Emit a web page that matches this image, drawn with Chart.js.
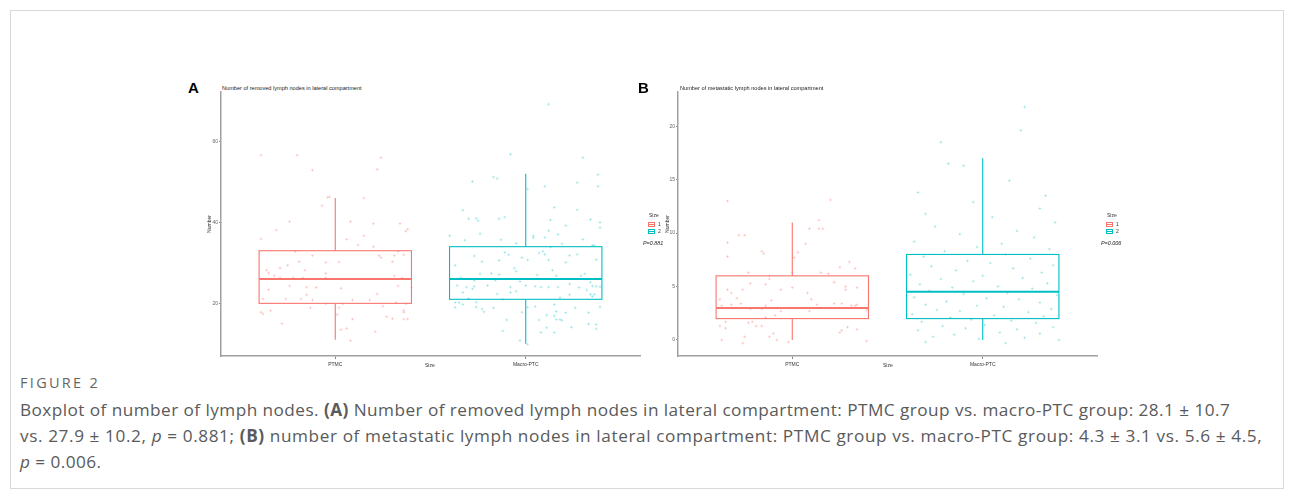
<!DOCTYPE html>
<html>
<head>
<meta charset="utf-8">
<script src="https://cdn.jsdelivr.net/npm/chart.js@4.4.1/dist/chart.umd.min.js"></script>
<style>
  body { margin: 0; background: #fff; width: 1295px; height: 499px; position: relative; overflow: hidden; font-family: Arial, "Liberation Sans", sans-serif; }
  .frame { position: absolute; left: 10px; top: 10px; width: 1274px; height: 479px; border: 1px solid #d9d9d9; box-sizing: border-box; }
  .wrap { position: absolute; top: 80px; width: 460px; height: 300px; }
  .tag { position: absolute; font-weight: bold; font-size: 15px; color: #000; line-height: 15px; }
  .ptitle { position: absolute; font-size: 5.6px; color: #222; line-height: 6px; white-space: nowrap; }
  .tiny { position: absolute; font-size: 5px; color: #333; line-height: 5px; white-space: nowrap; }
  .key { position: absolute; width: 5px; height: 3px; border: 1px solid; background: #fff; }
  .key::after { content: ''; position: absolute; left: 0; right: 0; top: 1px; height: 1px; background: currentColor; }
  .pval { position: absolute; font-size: 5.4px; font-style: italic; color: #222; white-space: nowrap; line-height: 6px; }
  .fig { position: absolute; left: 20px; top: 374px; font-family: "Open Sans", Lato, sans-serif; font-size: 14.5px; line-height: 18px; color: #666; letter-spacing: 2.3px; }
  .cap { position: absolute; left: 20px; top: 397px; font-family: "Open Sans", Lato, sans-serif; font-weight: 400; font-size: 17.2px; line-height: 26px; color: #5a5a5a; letter-spacing: 0.45px; white-space: nowrap; }
  .cap b { font-weight: 700; }
  .cap .l2 { letter-spacing: 0.6px; }
</style>
</head>
<body>
<div class="frame"></div>

<div class="tag" style="left:188px;top:80px">A</div>
<div class="ptitle" style="left:222px;top:85px">Number of removed lymph nodes in lateral compartment</div>
<div class="wrap" style="left:190px"><canvas id="chartA"></canvas></div>
<div class="tiny" style="left:425px;top:363px">Size</div>

<div class="tag" style="left:638px;top:80px">B</div>
<div class="ptitle" style="left:680px;top:85px">Number of metastatic lymph nodes in lateral compartment</div>
<div class="wrap" style="left:648px"><canvas id="chartB"></canvas></div>
<div class="tiny" style="left:883px;top:363px">Size</div>

<div id="legendA"></div>
<div id="legendB"></div>

<div class="fig">FIGURE 2</div>
<div class="cap">Boxplot of number of lymph nodes. <b>(A)</b> Number of removed lymph nodes in lateral compartment: PTMC group vs. macro-PTC group: 28.1 ± 10.7<br><span class="l2">vs. 27.9 ± 10.2, <i>p</i> = 0.881; <b>(B)</b> number of metastatic lymph nodes in lateral compartment: PTMC group vs. macro-PTC group: 4.3 ± 3.1 vs. 5.6 ± 4.5,</span><br><i>p</i> = 0.006.</div>

<script>
// categories and legend
var categories = ['PTMC', 'Macro-PTC'];
var groupLabels = ['1', '2'];
var colors = ['#F8766D', '#00BFC4'];
var pointColors = ['rgba(248,118,109,0.38)', 'rgba(0,191,196,0.33)'];

// tick labels
var yTicksA = [20, 40, 60];
var yTicksB = [0, 5, 10, 15, 20];

// box stats: [lower whisker, Q1, median, Q3, upper whisker]
var removedPtmcBox = [11, 20, 26, 33, 46];
var removedMacroBox = [10, 21, 26, 34, 52];
var metaPtmcBox = [0, 2, 3, 6, 11];
var metaMacroBox = [0, 2, 4.5, 8, 17];

// jittered observations [x position, value]
var removedPtmcPts = [[0.61,56.6],[0.80,56.6],[1.24,56.0],[0.88,52.9],[1.22,53.1],[0.96,46.2],[0.97,46.3],[1.15,46.0],[0.93,44.1],[0.76,40.2],[1.08,40.2],[1.20,39.7],[1.34,39.7],[1.38,38.3],[1.37,37.8],[0.61,35.9],[0.69,38.1],[1.15,36.7],[1.06,35.8],[1.12,34.4],[1.20,34.0],[0.79,32.8],[1.33,32.8],[0.88,31.8],[1.23,31.8],[1.24,31.3],[1.31,31.8],[1.36,32.0],[0.81,30.3],[0.95,30.1],[1.02,30.2],[1.30,30.3],[0.64,28.2],[0.65,27.5],[0.71,28.7],[0.75,29.4],[0.84,28.2],[0.68,26.8],[0.71,26.3],[0.78,26.3],[0.83,26.3],[0.95,27.4],[0.95,26.3],[1.31,26.8],[1.35,26.3],[0.76,24.3],[0.85,24.0],[0.90,23.9],[1.03,23.7],[1.33,24.3],[1.40,23.9],[0.65,23.4],[1.22,22.3],[0.62,21.1],[0.74,21.1],[0.82,21.1],[0.85,22.1],[0.88,20.8],[1.09,20.8],[1.18,20.8],[1.32,20.2],[0.95,19.9],[1.37,19.9],[1.04,19.9],[0.87,18.9],[1.02,18.9],[1.25,19.3],[0.61,17.8],[0.62,17.4],[0.66,18.2],[1.36,18.3],[1.36,17.8],[0.72,15.0],[1.01,17.2],[1.09,16.1],[1.27,16.7],[1.30,16.2],[1.36,16.1],[1.38,16.1],[1.03,13.5],[1.06,13.8],[1.21,13.0],[1.08,10.75]];

var removedMacroPts = [[2.12,69.2],[1.92,56.8],[2.30,56.0],[1.72,50.1],[1.83,51.2],[1.85,50.8],[2.10,48.9],[2.01,48.2],[2.27,49.8],[2.38,51.8],[2.38,48.9],[1.67,43.0],[2.15,43.7],[2.27,43.1],[1.70,40.9],[1.74,41.0],[1.75,40.4],[1.86,40.9],[1.89,41.3],[2.13,40.6],[2.34,40.7],[2.39,40.0],[2.21,39.2],[2.39,38.7],[1.60,36.7],[1.68,35.6],[1.76,37.2],[1.87,35.7],[2.04,36.7],[2.04,36.2],[2.10,36.3],[2.12,37.9],[2.17,37.0],[2.30,35.8],[1.95,34.8],[2.19,34.7],[2.35,34.3],[2.36,34.3],[2.13,33.9],[1.73,31.7],[1.89,32.6],[1.91,32.0],[1.98,31.3],[2.07,32.4],[2.09,32.8],[2.10,32.1],[2.23,31.8],[2.27,32.1],[1.63,29.4],[1.77,30.3],[1.86,30.6],[2.01,30.7],[2.12,30.7],[2.21,30.1],[2.37,30.8],[1.94,28.7],[1.95,27.9],[1.76,27.3],[1.82,27.4],[1.86,27.1],[2.06,27.0],[2.14,28.2],[2.16,26.8],[2.29,26.8],[2.31,27.3],[1.66,26.3],[1.73,25.6],[1.84,25.7],[1.97,25.4],[1.64,24.4],[1.69,24.0],[1.72,23.6],[1.73,24.2],[1.80,24.4],[1.92,24.0],[2.00,24.4],[2.05,24.2],[2.08,24.0],[2.12,24.0],[2.17,24.0],[2.23,24.8],[2.28,23.9],[2.34,25.2],[2.35,24.3],[2.37,24.2],[2.39,24.1],[1.67,22.7],[1.70,21.2],[1.85,22.3],[1.92,22.7],[1.95,23.0],[2.18,21.4],[2.23,22.1],[2.32,23.3],[2.34,22.2],[2.35,21.7],[2.36,22.2],[1.63,20.2],[1.65,20.2],[1.63,19.0],[1.67,19.7],[1.74,20.3],[1.74,19.1],[1.77,18.6],[1.78,17.9],[1.83,18.9],[1.88,21.0],[1.98,17.8],[2.01,19.0],[2.05,19.2],[2.15,19.7],[2.16,18.0],[2.15,16.9],[2.16,16.0],[2.18,16.0],[2.19,15.8],[2.21,17.7],[2.26,18.9],[2.33,17.7],[2.39,19.1],[1.90,15.9],[2.07,15.9],[2.11,17.1],[2.24,14.1],[2.33,14.9],[2.37,14.8],[2.37,13.7],[2.08,12.8],[2.11,14.0],[2.15,12.8],[1.88,13.2],[1.97,10.8],[2.01,9.9]];

var metaPtmcPts = [[0.66,13.0],[1.20,13.1],[0.72,9.8],[0.75,9.8],[0.66,9.1],[0.66,7.8],[1.09,10.4],[1.14,11.2],[1.14,10.4],[1.16,10.4],[1.07,9.0],[1.03,8.2],[1.01,7.7],[0.84,8.3],[0.85,8.1],[0.77,6.3],[1.00,6.3],[1.15,6.3],[1.19,6.2],[1.25,6.8],[1.30,7.3],[1.33,6.7],[0.88,6.0],[0.88,5.7],[0.78,5.3],[0.86,5.2],[1.00,4.9],[1.22,5.4],[1.28,5.0],[1.28,4.7],[1.34,4.9],[0.66,4.7],[0.68,4.4],[0.74,4.7],[0.94,4.7],[1.08,4.4],[0.62,3.8],[0.71,3.9],[0.89,3.7],[1.10,3.8],[0.63,3.2],[0.73,3.4],[0.68,3.3],[0.86,3.2],[1.13,3.3],[1.22,3.4],[1.26,3.4],[1.31,3.2],[1.34,3.3],[1.33,3.2],[0.78,2.9],[0.84,2.9],[0.92,3.0],[0.99,3.0],[0.94,2.7],[1.09,2.7],[1.39,2.8],[0.79,1.7],[0.77,1.6],[0.65,1.7],[0.62,1.3],[0.65,1.1],[0.81,1.3],[0.84,1.3],[0.86,2.1],[0.91,2.3],[1.25,0.7],[1.26,0.9],[1.29,1.2],[1.34,1.0],[0.75,0.3],[0.63,0.0],[0.74,-0.3],[0.90,0.6],[0.88,0.3],[0.92,0.0],[0.98,-0.2],[1.39,-0.1]];

var metaMacroPts = [[2.22,21.8],[1.78,18.5],[2.20,19.6],[1.82,16.5],[1.90,16.3],[2.14,14.9],[1.66,13.8],[2.33,13.5],[1.95,12.9],[2.30,12.3],[1.70,11.8],[2.05,11.5],[2.38,11.0],[1.75,10.6],[2.18,10.2],[1.88,9.9],[2.27,9.6],[1.64,9.2],[2.10,9.0],[1.97,8.7],[2.35,8.5],[1.80,8.3],[2.12,8.0],[1.69,7.8],[2.25,7.6],[1.92,7.4],[2.04,7.2],[2.37,7.0],[1.73,6.9],[2.16,6.7],[1.86,6.5],[2.31,6.3],[1.62,6.1],[2.00,6.0],[2.21,5.8],[1.78,5.7],[1.95,5.5],[2.34,5.3],[1.67,5.2],[2.08,5.0],[1.84,4.9],[2.26,4.8],[1.72,4.6],[2.13,4.4],[1.90,4.3],[2.39,4.2],[1.64,4.0],[2.02,3.9],[2.19,3.8],[1.81,3.6],[2.30,3.5],[1.70,3.3],[1.97,3.2],[2.11,3.1],[2.36,2.9],[1.76,2.8],[1.88,2.7],[2.24,2.6],[1.63,2.4],[2.06,2.3],[2.32,2.2],[1.83,2.1],[1.94,1.9],[2.15,1.8],[1.68,1.7],[2.28,1.6],[2.01,1.4],[1.79,1.3],[2.37,1.2],[1.91,1.1],[2.18,1.0],[1.66,0.9],[2.09,0.7],[2.30,0.6],[1.85,0.5],[1.74,0.3],[2.22,0.2],[1.98,0.1],[2.40,0.0],[1.70,-0.2],[2.12,-0.3]];

var boxPlugin = {
  id: 'boxes',
  beforeDatasetsDraw: function (chart, args, opts) {
    var ctx = chart.ctx;
    var x = chart.scales.x, y = chart.scales.y;
    ctx.save();
    opts.stats.forEach(function (s, i) {
      var cx = x.getPixelForValue(i + 1);
      var x0 = x.getPixelForValue(i + 1 - opts.width / 2);
      var x1 = x.getPixelForValue(i + 1 + opts.width / 2);
      var py = s.map(function (v) { return y.getPixelForValue(v); });
      ctx.strokeStyle = colors[i];
      ctx.lineWidth = 1.1;
      ctx.beginPath();
      ctx.moveTo(cx, py[0]); ctx.lineTo(cx, py[1]);
      ctx.moveTo(cx, py[3]); ctx.lineTo(cx, py[4]);
      ctx.stroke();
      ctx.strokeRect(x0, py[3], x1 - x0, py[1] - py[3]);
      ctx.lineWidth = 2;
      ctx.beginPath();
      ctx.moveTo(x0, py[2]); ctx.lineTo(x1, py[2]);
      ctx.stroke();
    });
    ctx.restore();
  }
};

function toXY(pts) {
  return pts.map(function (p) { return { x: p[0], y: p[1] }; });
}

function makeChart(id, ptsList, stats, yMin, yMax, yTicks, yWidth, padRight, titlePad) {
  var axisFont = { family: 'Arial', size: 5 };
  return new Chart(document.getElementById(id), {
    type: 'scatter',
    data: {
      datasets: ptsList.map(function (pts, i) {
        return {
          label: groupLabels[i],
          data: toXY(pts),
          pointStyle: 'cross',
          radius: 1.4,
          borderWidth: 0.8,
          borderColor: pointColors[i],
          backgroundColor: pointColors[i]
        };
      })
    },
    options: {
      responsive: true,
      maintainAspectRatio: false,
      animation: false,
      layout: { padding: { top: 12, right: padRight, bottom: 0, left: 0 } },
      plugins: {
        legend: { display: false },
        tooltip: { enabled: false },
        boxes: { stats: stats, width: 0.8 }
      },
      scales: {
        x: {
          type: 'linear',
          min: 0.4,
          max: 2.6,
          afterBuildTicks: function (s) { s.ticks = categories.map(function (c, i) { return { value: i + 1 }; }); },
          afterFit: function (s) { s.height = 24; },
          ticks: {
            callback: function (v, i) { return categories[i]; },
            font: axisFont, color: '#333', padding: 3, maxRotation: 0, autoSkip: false
          },
          grid: { drawOnChartArea: false, drawTicks: true, tickLength: 3, color: '#888' },
          border: { display: true, color: '#a0a0a0', width: 1.5 }
        },
        y: {
          type: 'linear',
          min: yMin,
          max: yMax,
          afterBuildTicks: function (s) { s.ticks = yTicks.map(function (v) { return { value: v }; }); },
          afterFit: function (s) { s.width = yWidth; },
          ticks: { font: axisFont, color: '#666', padding: 1 },
          grid: { drawOnChartArea: false, drawTicks: true, tickLength: 2, color: '#888' },
          border: { display: true, color: '#a0a0a0', width: 1.5 },
          title: { display: true, text: 'Number', font: axisFont, color: '#333', padding: { top: titlePad, bottom: 0 } }
        }
      }
    },
    plugins: [boxPlugin]
  });
}

function makeLegend(id, left, pText) {
  var el = document.getElementById(id);
  var html = '<div class="tiny" style="left:' + (left + 1) + 'px;top:213px">Size</div>';
  groupLabels.forEach(function (g, i) {
    var top = 222 + i * 7;
    html += '<div class="key" style="left:' + left + 'px;top:' + top + 'px;border-color:' + colors[i] + ';color:' + colors[i] + '"></div>';
    html += '<div class="tiny" style="left:' + (left + 10) + 'px;top:' + top + 'px">' + g + '</div>';
  });
  html += '<div class="pval" style="left:' + (left - 5) + 'px;top:240px">' + pText + '</div>';
  el.innerHTML = html;
}

makeChart('chartA', [removedPtmcPts, removedMacroPts], [removedPtmcBox, removedMacroBox], 7, 72.2, yTicksA, 31, 10, 17);
makeChart('chartB', [metaPtmcPts, metaMacroPts], [metaPtmcBox, metaMacroBox], -1.5, 23.2, yTicksB, 30, 11, 17);
makeLegend('legendA', 648, 'P=0.881');
makeLegend('legendB', 1106, 'P=0.006');
</script>
</body>
</html>
